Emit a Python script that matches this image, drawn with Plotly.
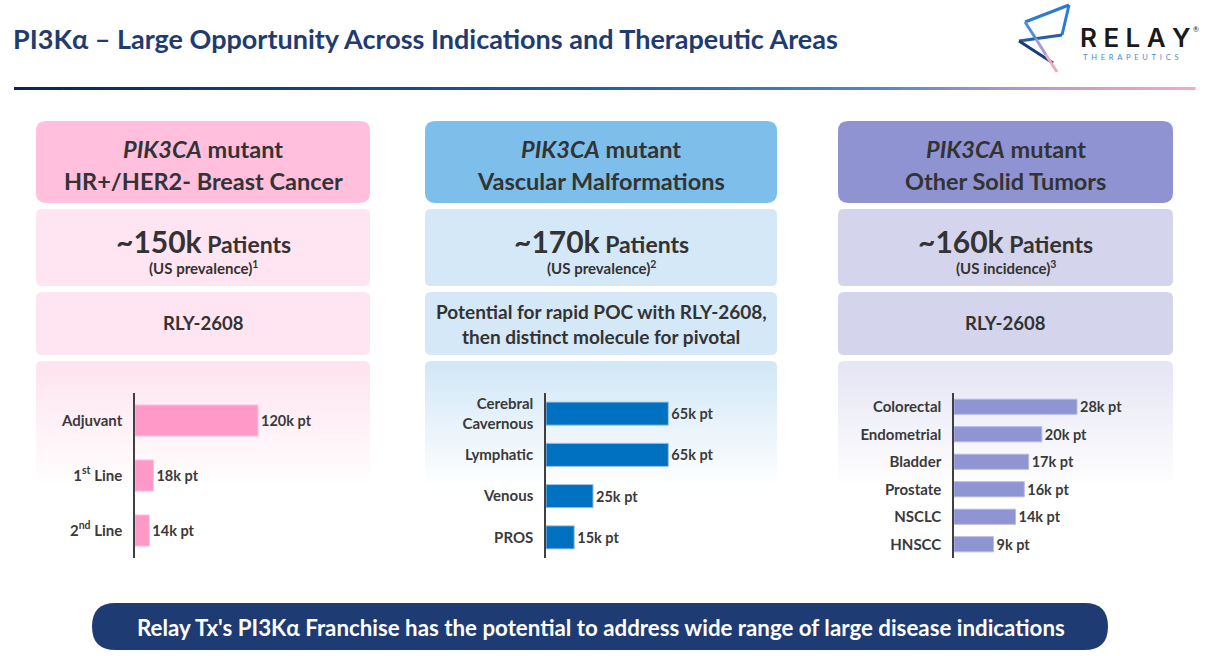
import plotly.graph_objects as go

W, H = 1229, 656

# ---------------- data ----------------
title_text = "PI3Kα – Large Opportunity Across Indications and Therapeutic Areas"
banner_text = "Relay Tx's PI3Kα Franchise has the potential to address wide range of large disease indications"

col_headers = ["HR+/HER2- Breast Cancer", "Vascular Malformations", "Other Solid Tumors"]
col_patients = ["~150k", "~170k", "~160k"]
col_measure = ["(US prevalence)<sup>1</sup>", "(US prevalence)<sup>2</sup>", "(US incidence)<sup>3</sup>"]
col_molecule = [["RLY-2608"],
                ["Potential for rapid POC with RLY-2608,", "then distinct molecule for pivotal"],
                ["RLY-2608"]]

breast_cats = ["Adjuvant", "1<sup>st</sup> Line", "2<sup>nd</sup> Line"]
breast_vals = [120, 18, 14]

vascular_cats = ["Cerebral<br>Cavernous", "Lymphatic", "Venous", "PROS"]
vascular_vals = [65, 65, 25, 15]

tumor_cats = ["Colorectal", "Endometrial", "Bladder", "Prostate", "NSCLC", "HNSCC"]
tumor_vals = [28, 20, 17, 16, 14, 9]

# ---------------- styling ----------------
FONT = "Lato"
TXT = "#333333"
header_fill = ["#FFBFDD", "#7DBEEA", "#8F93D2"]
box_fill = ["#FFE5F1", "#D4E8F7", "#D4D5EC"]
grad_top = ["#FFE4F0", "#D3E8F7", "#E6E6F5"]
bar_color = ["#FF99C8", "#0070C0", "#8F94D2"]
bar_edge = ["#FFC2DD", "#9DC3E6", "#B7BAE4"]
cols_x = [(36, 370), (425, 777), (838, 1173)]


def px(x):
    return x / W


def py(y):
    return 1 - y / H


def pt(x, y):
    return f"{x / W:.5f},{1 - y / H:.5f}"


def rrect(x0, y0, x1, y1, r=8, top=True, bottom=True):
    rt = r if top else 0
    rb = r if bottom else 0
    s = f"M {pt(x0 + rt, y0)} L {pt(x1 - rt, y0)} "
    if rt:
        s += f"Q {pt(x1, y0)} {pt(x1, y0 + rt)} "
    s += f"L {pt(x1, y1 - rb)} "
    if rb:
        s += f"Q {pt(x1, y1)} {pt(x1 - rb, y1)} "
    s += f"L {pt(x0 + rb, y1)} "
    if rb:
        s += f"Q {pt(x0, y1)} {pt(x0, y1 - rb)} "
    s += f"L {pt(x0, y0 + rt)} "
    if rt:
        s += f"Q {pt(x0, y0)} {pt(x0 + rt, y0)} "
    return s + "Z"


def hex2rgb(h):
    h = h.lstrip("#")
    return tuple(int(h[i:i + 2], 16) for i in (0, 2, 4))


def mix(c1, c2, t):
    a, b = hex2rgb(c1), hex2rgb(c2)
    return "rgb(%d,%d,%d)" % tuple(round(a[i] + (b[i] - a[i]) * t) for i in range(3))


shapes = []
annotations = []


def add_text(x, y, text, size, color=TXT, anchor="center", bold=True, family=FONT, weight=None):
    annotations.append(dict(
        x=px(x), y=py(y), xref="paper", yref="paper", text=text, showarrow=False,
        xanchor=anchor, yanchor="middle",
        font=dict(family=family, size=size, color=color,
                  weight=weight if weight is not None else ("bold" if bold else "normal"))))


# ---- title ----
add_text(11, 38, title_text, 27, color="#1F3B70", anchor="left")

# ---- gradient rule under title ----
stops = [(14, "#0B2557"), (600, "#1E5FAA"), (880, "#4D88CF"), (1000, "#AC93CF"), (1195, "#F7A8CA")]
N = 120
for i in range(N):
    xa = 14 + (1195 - 14) * i / N
    xb = 14 + (1195 - 14) * (i + 1) / N
    xm = (xa + xb) / 2
    for j in range(len(stops) - 1):
        if stops[j][0] <= xm <= stops[j + 1][0]:
            t = (xm - stops[j][0]) / (stops[j + 1][0] - stops[j][0])
            c = mix(stops[j][1], stops[j + 1][1], t)
            break
    shapes.append(dict(type="rect", xref="paper", yref="paper", x0=px(xa), x1=px(xb) + 0.0005,
                       y0=py(90), y1=py(87), fillcolor=c, line=dict(width=0), layer="below"))

# ---- logo ----
logo_lines = [((1069, 5), (1025, 22), "#2C7AD2"), ((1069, 5), (1062, 35), "#2C7AD2"),
              ((1062, 35), (1019, 41), "#2A5BA8"), ((1019, 41), (1053, 63), "#1E3A7A"),
              ((1025, 22), (1036, 39), "#4F8ED8"), ((1036, 39), (1046, 55), "#A99AD8"),
              ((1046, 55), (1057, 72), "#F2A6C8")]
for (a, b, c) in logo_lines:
    shapes.append(dict(type="line", xref="paper", yref="paper", x0=px(a[0]), y0=py(a[1]),
                       x1=px(b[0]), y1=py(b[1]), line=dict(color=c, width=3)))
add_text(1078, 37, "R\u2009\u200aE\u2009\u200aL\u2009\u200aA\u2009\u200aY", 26, color="#1A1A1A",
         anchor="left", family="Inter", weight=600)
add_text(1191, 29, "®", 7, color="#1A1A1A", anchor="left", bold=False)
add_text(1081, 57, "\u2002".join("THERAPEUTICS"), 7.5, color="#4A8AD4", anchor="left", bold=False)

# ---- column boxes ----
for k, (x0, x1) in enumerate(cols_x):
    cx = (x0 + x1) / 2
    shapes.append(dict(type="path", path=rrect(x0, 121, x1, 203, 10), xref="paper", yref="paper",
                       fillcolor=header_fill[k], line=dict(width=0), layer="below"))
    shapes.append(dict(type="path", path=rrect(x0, 209, x1, 286, 6), xref="paper", yref="paper",
                       fillcolor=box_fill[k], line=dict(width=0), layer="below"))
    shapes.append(dict(type="path", path=rrect(x0, 292, x1, 355, 6), xref="paper", yref="paper",
                       fillcolor=box_fill[k], line=dict(width=0), layer="below"))
    # gradient panel
    shapes.append(dict(type="path", path=rrect(x0, 361, x1, 368, 6, bottom=False), xref="paper",
                       yref="paper", fillcolor=grad_top[k], line=dict(width=0), layer="below"))
    g0, g1, step = 368, 488, 4
    n = (g1 - g0) // step
    for i in range(n):
        ya = g0 + i * step
        shapes.append(dict(type="rect", xref="paper", yref="paper", x0=px(x0), x1=px(x1),
                           y0=py(ya + step + 0.5), y1=py(ya),
                           fillcolor=mix(grad_top[k], "#FFFFFF", (i + 0.5) / n),
                           line=dict(width=0), layer="below"))
    # header texts
    add_text(cx, 149, "<i>PIK3CA</i> mutant", 23.5)
    add_text(cx, 181, col_headers[k], 23.5)
    add_text(cx, 241, f"<span style='font-size:30px'>{col_patients[k]}</span> Patients", 23)
    add_text(cx, 268, col_measure[k], 15)
    lines = col_molecule[k]
    if len(lines) == 1:
        add_text(cx, 323, lines[0], 18.5)
    else:
        add_text(cx, 311, lines[0], 19)
        add_text(cx, 336, lines[1], 19)

# ---- banner ----
shapes.append(dict(type="path", path=rrect(92, 603, 1108, 650, 23.5), xref="paper", yref="paper",
                   fillcolor="#1F3B73", line=dict(width=0), layer="below"))
add_text(601, 627, banner_text, 22.3, color="#FFFFFF")

# ---- bar charts ----
fig = go.Figure()
charts = [
    (breast_cats, breast_vals, (135, 340), 200, 0.565),
    (vascular_cats, vascular_vals, (546, 760), 113.7, 0.56),
    (tumor_cats, tumor_vals, (954, 1160), 46.9, 0.55),
]
layout_axes = {}
for k, (cats, vals, (dx0, dx1), xmax, bw) in enumerate(charts):
    sfx = "" if k == 0 else str(k + 1)
    fig.add_trace(go.Bar(
        x=vals, y=cats, orientation="h", xaxis="x" + sfx, yaxis="y" + sfx,
        marker=dict(color=bar_color[k], line=dict(color=bar_edge[k], width=1)),
        width=bw, text=[f"{v}k pt" for v in vals], textposition="outside",
        constraintext="none",
        textfont=dict(family=FONT, size=14.5, color="#3A3A3A", weight="bold"),
        cliponaxis=False, showlegend=False, hoverinfo="skip"))
    layout_axes["xaxis" + sfx] = dict(domain=[px(dx0), px(dx1)], range=[0, xmax], visible=False,
                                      anchor="y" + sfx, fixedrange=True)
    layout_axes["yaxis" + sfx] = dict(domain=[py(558), py(393)], anchor="x" + sfx,
                                      categoryorder="array", categoryarray=cats,
                                      autorange="reversed", showline=True, linecolor="#404040",
                                      linewidth=1.5, ticks="", showgrid=False, zeroline=False,
                                      ticklabelstandoff=8, fixedrange=True,
                                      tickfont=dict(family=FONT, size=15, color="#3A3A3A",
                                                    weight="bold"))

fig.update_layout(
    width=W, height=H, margin=dict(l=0, r=0, t=0, b=0),
    paper_bgcolor="#FFFFFF", plot_bgcolor="rgba(0,0,0,0)",
    shapes=shapes, annotations=annotations, bargap=0.4, **layout_axes)

fig.write_html("out.html", config={"displayModeBar": False},
               post_script="document.body.style.margin='0';document.body.style.overflow='hidden';")
